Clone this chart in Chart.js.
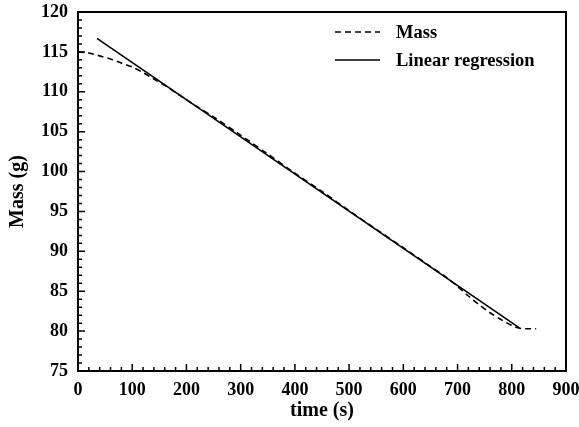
<!DOCTYPE html>
<html lang="en">
<head>
    <meta charset="UTF-8">
    <title>Mass vs time</title>
    <script src="https://cdn.jsdelivr.net/npm/chart.js"></script>
    <style>
        body { margin: 0; background: #fff; }
        #massChart { display: block; }
    </style>
</head>
<body>
    <canvas id="massChart" width="579" height="427"></canvas>
    <script>
    // measured mass (dashed)
    const massTime = [0, 20, 40, 60, 80, 100, 120, 140, 160, 180, 200, 225, 250, 300, 350, 400, 450, 500, 550, 600, 650, 680, 700, 720, 740, 760, 780, 800, 815, 830, 845];
    const massValues = [115.0, 114.85, 114.5, 114.1, 113.6, 113.1, 112.4, 111.6, 110.8, 109.9, 109.0, 107.9, 106.85, 104.55, 102.2, 99.8, 97.5, 95.1, 92.75, 90.45, 88.1, 86.7, 85.6, 84.4, 83.3, 82.3, 81.45, 80.7, 80.35, 80.3, 80.3];
    // linear regression (solid)
    const regTime = [35, 814];
    const regValues = [116.7, 80.4];
    const xTicks = [0, 100, 200, 300, 400, 500, 600, 700, 800, 900];
    const yTicks = [75, 80, 85, 90, 95, 100, 105, 110, 115, 120];

    const FONT = 'Liberation Serif';

    // frame + inward ticks + legend
    const framePlugin = {
        id: 'frame',
        afterDraw: (chart) => {
            const ctx = chart.ctx;
            const a = chart.chartArea;
            const xs = chart.scales.x, ys = chart.scales.y;
            ctx.save();
            ctx.strokeStyle = '#000';
            ctx.lineWidth = 1.5;
            ctx.beginPath();
            // minor ticks x every 20, y every 1
            for (let v = xs.min; v <= xs.max; v += 20) {
                const px = xs.getPixelForValue(v);
                const len = (v % 100 === 0) ? 7 : 4;
                ctx.moveTo(px, a.bottom);
                ctx.lineTo(px, a.bottom - len);
            }
            for (let v = ys.min; v <= ys.max; v += 1) {
                const py = ys.getPixelForValue(v);
                const len = (v % 5 === 0) ? 7 : 4;
                ctx.moveTo(a.left, py);
                ctx.lineTo(a.left + len, py);
            }
            ctx.stroke();
            ctx.lineWidth = 2;
            ctx.strokeRect(a.left, a.top, a.right - a.left, a.bottom - a.top);

            // legend
            ctx.lineWidth = 1.5;
            ctx.font = 'bold 18.5px "' + FONT + '"';
            ctx.fillStyle = '#000';
            ctx.textBaseline = 'middle';
            ctx.textAlign = 'left';
            const rows = [32, 60];
            chart.data.datasets.forEach((ds, i) => {
                ctx.beginPath();
                ctx.setLineDash(ds.borderDash || []);
                ctx.moveTo(335, rows[i]);
                ctx.lineTo(380, rows[i]);
                ctx.stroke();
                ctx.setLineDash([]);
                ctx.fillText(ds.label, 396, rows[i] + 1);
            });
            ctx.restore();
        }
    };

    const ctx = document.getElementById('massChart').getContext('2d');
    const massChart = new Chart(ctx, {
        type: 'line',
        data: {
            datasets: [{
                label: 'Mass',
                data: massTime.map((t, i) => ({ x: t, y: massValues[i] })),
                borderColor: '#000',
                borderWidth: 1.6,
                borderDash: [6, 4],
                pointRadius: 0,
                tension: 0.3,
                fill: false
            }, {
                label: 'Linear regression',
                data: regTime.map((t, i) => ({ x: t, y: regValues[i] })),
                borderColor: '#000',
                borderWidth: 1.6,
                pointRadius: 0,
                fill: false
            }]
        },
        options: {
            responsive: false,
            animation: false,
            layout: {
                padding: { left: 0, top: 12, right: 13, bottom: 0 }
            },
            plugins: {
                legend: { display: false },
                tooltip: { enabled: false }
            },
            scales: {
                x: {
                    type: 'linear',
                    min: 0,
                    max: 900,
                    afterBuildTicks: (scale) => { scale.ticks = xTicks.map(v => ({ value: v })); },
                    afterFit: (scale) => {
                        scale.height = 56;
                        scale.paddingLeft = 0;
                        scale.paddingRight = 0;
                    },
                    grid: { display: false, drawTicks: false },
                    border: { display: false },
                    ticks: {
                        color: '#000',
                        padding: 9,
                        maxRotation: 0,
                        font: { family: FONT, size: 18, weight: 'bold' }
                    },
                    title: {
                        display: true,
                        text: 'time (s)',
                        color: '#000',
                        padding: { top: 0, bottom: 4 },
                        font: { family: FONT, size: 20, weight: 'bold' }
                    }
                },
                y: {
                    type: 'linear',
                    min: 75,
                    max: 120,
                    afterBuildTicks: (scale) => { scale.ticks = yTicks.map(v => ({ value: v })); },
                    afterFit: (scale) => {
                        scale.width = 78;
                        scale.paddingTop = 0;
                        scale.paddingBottom = 0;
                    },
                    grid: { display: false, drawTicks: false },
                    border: { display: false },
                    ticks: {
                        color: '#000',
                        padding: 10,
                        font: { family: FONT, size: 18, weight: 'bold' }
                    },
                    title: {
                        display: true,
                        text: 'Mass (g)',
                        color: '#000',
                        padding: { top: 6, bottom: 0 },
                        font: { family: FONT, size: 20, weight: 'bold' }
                    }
                }
            }
        },
        plugins: [framePlugin]
    });
    </script>
</body>
</html>
